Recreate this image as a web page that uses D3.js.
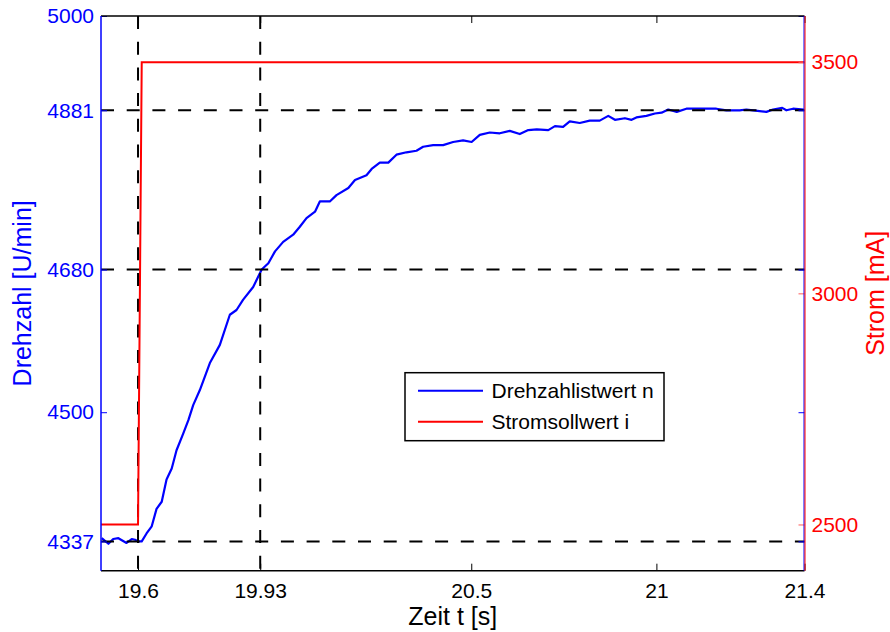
<!DOCTYPE html>
<html>
<head>
<meta charset="utf-8">
<script src="https://cdn.jsdelivr.net/npm/d3@7"></script>
<style>
  html, body { margin: 0; padding: 0; background: #fff; }
  svg { display: block; font-family: "Liberation Sans", Arial, sans-serif; }
</style>
</head>
<body>
<svg id="chart" width="890" height="632"></svg>
<script>
// ---------- data ----------
const speedTime = [19.502, 19.520, 19.533, 19.547, 19.569, 19.583, 19.592, 19.601, 19.610, 19.623,
  19.637, 19.650, 19.664, 19.677, 19.691, 19.704, 19.722, 19.736, 19.749, 19.767,
  19.794, 19.821, 19.848, 19.866, 19.884, 19.911, 19.934, 19.952, 19.970, 19.992,
  20.019, 20.037, 20.055, 20.078, 20.091, 20.118, 20.136, 20.168, 20.186, 20.217,
  20.231, 20.253, 20.276, 20.298, 20.325, 20.352, 20.370, 20.397, 20.424, 20.451,
  20.478, 20.501, 20.523, 20.550, 20.577, 20.604, 20.631, 20.654, 20.677, 20.708,
  20.726, 20.748, 20.766, 20.793, 20.820, 20.847, 20.870, 20.888, 20.915, 20.933,
  20.946, 20.973, 20.996, 21.014, 21.032, 21.055, 21.081, 21.117, 21.162, 21.189,
  21.225, 21.243, 21.261, 21.297, 21.315, 21.340, 21.351, 21.369, 21.398];
const speedValues = [4341, 4334, 4340, 4341, 4335, 4340, 4339, 4337, 4337, 4347,
  4356, 4378, 4387, 4415, 4429, 4452, 4473, 4490, 4509, 4528,
  4562, 4585, 4623, 4629, 4642, 4658, 4680, 4688, 4703, 4715,
  4724, 4734, 4745, 4753, 4766, 4766, 4774, 4783, 4793, 4799,
  4807, 4815, 4815, 4825, 4828, 4830, 4835, 4837, 4837, 4841,
  4843, 4841, 4850, 4853, 4852, 4855, 4851, 4856, 4857, 4856,
  4861, 4860, 4867, 4865, 4868, 4868, 4874, 4869, 4871, 4869,
  4872, 4874, 4877, 4878, 4882, 4879, 4883, 4883, 4883, 4881,
  4881, 4882, 4881, 4879, 4882, 4884, 4881, 4883, 4882];
const currentTime = [19.5, 19.6, 19.61, 21.4];
const currentValues = [2500, 2500, 3500, 3500];

const xTicks = [19.6, 19.93, 20.5, 21, 21.4];
const xTickLabels = ["19.6", "19.93", "20.5", "21", "21.4"];
const leftTicks = [4337, 4500, 4680, 4881, 5000];
const rightTicks = [2500, 3000, 3500];
const refTimes = [19.6, 19.93];
const refSpeeds = [4881, 4680, 4337];
const seriesNames = ["Drehzahlistwert n", "Stromsollwert i"];

// ---------- layout ----------
const L = 101, R = 804.5, T = 16, B = 570.7;
const BLUE = "#0000ff", RED = "#ff0000";
const fontTick = 21;

const svg = d3.select("#chart");
const x = d3.scaleLinear().domain([19.5, 21.4]).range([L, R]);
const yL = d3.scaleLinear().domain([4300, 5000]).range([B, T]);
const yR = d3.scaleLinear().domain([2400, 3600]).range([B, T]);

// blue series
const lineL = d3.line().x((d, i) => x(speedTime[i])).y(d => yL(d));
svg.append("path").datum(speedValues)
  .attr("d", lineL).attr("fill", "none")
  .attr("stroke", BLUE).attr("stroke-width", 2.2).attr("stroke-linejoin", "round");

// dashed reference lines
const dash = "13,12.7";
svg.append("g").selectAll("line.h").data(refSpeeds).join("line")
  .attr("x1", L).attr("x2", R).attr("y1", d => yL(d)).attr("y2", d => yL(d))
  .attr("stroke", "#000").attr("stroke-width", 2).attr("stroke-dasharray", dash);
svg.append("g").selectAll("line.v").data(refTimes).join("line")
  .attr("x1", d => x(d)).attr("x2", d => x(d)).attr("y1", T).attr("y2", B)
  .attr("stroke", "#000").attr("stroke-width", 2).attr("stroke-dasharray", dash);

// red series
const lineR = d3.line().x((d, i) => x(currentTime[i])).y(d => yR(d));
svg.append("path").datum(currentValues)
  .attr("d", lineR).attr("fill", "none")
  .attr("stroke", RED).attr("stroke-width", 2);

// ---------- axes ----------
function styleAxis(g, color) {
  g.select(".domain").remove();
  g.selectAll(".tick line").attr("stroke", color).attr("stroke-width", 1);
  g.selectAll(".tick text").attr("fill", color)
    .attr("font-size", fontTick).attr("font-family", "Liberation Sans, Arial, sans-serif");
}

// bottom
const gB = svg.append("g").attr("transform", `translate(0,${B})`)
  .call(d3.axisBottom(x).tickValues(xTicks).tickFormat((d, i) => xTickLabels[i]).tickSize(-7).tickPadding(12));
styleAxis(gB, "#000");
// top (mirrored ticks, no labels)
const gT = svg.append("g").attr("transform", `translate(0,${T})`)
  .call(d3.axisTop(x).tickValues(xTicks).tickFormat("").tickSize(-7));
styleAxis(gT, "#000");

// left
const gL = svg.append("g").attr("transform", `translate(${L},0)`)
  .call(d3.axisLeft(yL).tickValues(leftTicks).tickFormat(d3.format("d")).tickSize(-6).tickPadding(7));
styleAxis(gL, BLUE);
// left ticks mirrored at right
const gLR = svg.append("g").attr("transform", `translate(${R},0)`)
  .call(d3.axisRight(yL).tickValues(leftTicks).tickFormat("").tickSize(-6));
styleAxis(gLR, BLUE);

// right (current)
const gR = svg.append("g").attr("transform", `translate(${R},0)`)
  .call(d3.axisRight(yR).tickValues(rightTicks).tickFormat(d3.format("d")).tickSize(-6).tickPadding(7));
styleAxis(gR, RED);
gR.selectAll(".tick line").attr("stroke", "#ff5a5a");

// frame lines
svg.append("line").attr("x1", L).attr("x2", R).attr("y1", T).attr("y2", T).attr("stroke", "#000").attr("stroke-width", 1.5);
svg.append("line").attr("x1", L).attr("x2", R).attr("y1", B).attr("y2", B).attr("stroke", "#000").attr("stroke-width", 1.5);
svg.append("line").attr("x1", L).attr("x2", L).attr("y1", T).attr("y2", B).attr("stroke", BLUE).attr("stroke-width", 1.5);
svg.append("line").attr("x1", R - 0.5).attr("x2", R - 0.5).attr("y1", T).attr("y2", B).attr("stroke", BLUE).attr("stroke-width", 1);
svg.append("line").attr("x1", R + 0.5).attr("x2", R + 0.5).attr("y1", T).attr("y2", B).attr("stroke", RED).attr("stroke-width", 1);

// axis titles
svg.append("text").attr("transform", `translate(${(L + R) / 2},625)`)
  .attr("text-anchor", "middle").attr("font-size", 25).attr("fill", "#000").text("Zeit t [s]");
svg.append("text").attr("transform", `translate(31,${(T + B) / 2}) rotate(-90)`)
  .attr("text-anchor", "middle").attr("font-size", 25).attr("fill", BLUE).text("Drehzahl [U/min]");
svg.append("text").attr("transform", `translate(884,${(T + B) / 2}) rotate(-90)`)
  .attr("text-anchor", "middle").attr("font-size", 25).attr("fill", RED).text("Strom [mA]");

// legend
const leg = svg.append("g");
leg.append("rect").attr("x", 405).attr("y", 372.7).attr("width", 259).attr("height", 68)
  .attr("fill", "#fff").attr("stroke", "#000").attr("stroke-width", 1.5);
const legColors = [BLUE, RED];
const legY = [390.7, 421.7];
seriesNames.forEach((name, i) => {
  leg.append("line").attr("x1", 418).attr("x2", 483).attr("y1", legY[i]).attr("y2", legY[i])
    .attr("stroke", legColors[i]).attr("stroke-width", 2);
  leg.append("text").attr("x", 491.5).attr("y", legY[i]).attr("dy", "0.36em")
    .attr("font-size", 21).attr("fill", "#000").text(name);
});
</script>
</body>
</html>
